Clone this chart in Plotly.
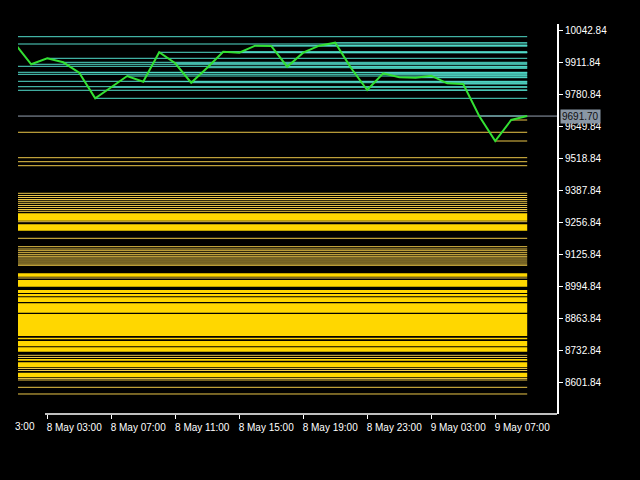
import pandas as pd
import plotly.graph_objects as go

# hourly closes, 8 May 01:00 .. 9 May 09:00
bar_times = pd.date_range("2024-05-08 01:00", periods=33, freq="h")
closes = [9986.7, 9903.7, 9928.2, 9911.8, 9869.3, 9764.4, 9809.5, 9855.7, 9832.4, 9952.8,
          9907.7, 9828.3, 9889.7, 9955.2, 9951.1, 9979.8, 9978.5, 9893.8, 9951.1, 9979.8,
          9992.1, 9887.3, 9798.4, 9866.8, 9850.4, 9848.8, 9857.0, 9825.8, 9823.0, 9692.0,
          9589.6, 9675.6, 9691.70]

# levels from bars before the visible window, they run across the whole chart
old_levels = [10016.6, 9895.4, 9870.9, 9862.7, 9834.0, 9811.9, 9797.2,
              9625.3, 9521.3, 9504.9, 9488.5,
              9375.5, 9366.5, 9358.3, 9350.1, 9342.8, 9334.6, 9325.6, 9317.4, 9309.2, 9301.8,
              9259.2, 9191.3,
              9156.9, 9147.5, 9140.5, 9132.3, 9124.2, 9117.6, 9110.7, 9102.5, 9094.3, 9086.1, 9080.8,
              9028.8, 8712.3, 8703.3, 8658.3, 8650.1, 8617.4, 8611.2, 8581.3, 8553.9]

# dense clusters of levels (low, high)
old_bands = [(9263.4, 9293.6), (9222.4, 9248.6), (9034.1, 9048.0), (8993.2, 9020.6),
             (8967.4, 8979.7), (8953.9, 8963.3), (8930.5, 8949.8), (8886.7, 8925.2),
             (8791.3, 8881.4), (8777.8, 8784.4), (8749.2, 8770.9), (8727.1, 8745.1),
             (8690.2, 8697.2), (8663.2, 8683.7), (8622.3, 8641.1)]

y_ticks = [10042.84, 9911.84, 9780.84, 9649.84, 9518.84, 9387.84,
           9256.84, 9125.84, 8994.84, 8863.84, 8732.84, 8601.84]
x_ticks = ["2024-05-08 03:00", "2024-05-08 07:00", "2024-05-08 11:00", "2024-05-08 15:00",
           "2024-05-08 19:00", "2024-05-08 23:00", "2024-05-09 03:00", "2024-05-09 07:00"]

CYAN = "#52dccb"
GOLD_LINE = "#ebc648"
GOLD = "#ffd700"
FONT = dict(family="Liberation Sans", size=10, color="white")

last = closes[-1]
t_first, t_last = bar_times[0], bar_times[-1]

# 16 px per hour, 8 May 03:00 sits 29 px from the left edge of the plot
t0 = pd.Timestamp("2024-05-08 03:00") - pd.Timedelta(hours=29.2 / 16)
t1 = t0 + pd.Timedelta(hours=539 / 16)

segs = {"up": ([], []), "dn": ([], [])}

def add_seg(start, lvl):
    key = "up" if lvl > last else "dn"
    xs, ys = segs[key]
    xs += [start, t_last, None]
    ys += [lvl, lvl, None]

for lvl in old_levels:
    add_seg(t_first, lvl)
for t, c in zip(bar_times[:-1], closes[:-1]):
    add_seg(t, c)

fig = go.Figure()

for lo, hi in old_bands:
    fig.add_shape(type="rect", xref="x", yref="y", x0=t_first, x1=t_last, y0=lo, y1=hi,
                  fillcolor=GOLD, line_width=0, layer="below")

fig.add_trace(go.Scatter(x=segs["dn"][0], y=segs["dn"][1], mode="lines",
                         line=dict(color=GOLD_LINE, width=1), hoverinfo="skip"))
fig.add_trace(go.Scatter(x=segs["up"][0], y=segs["up"][1], mode="lines",
                         line=dict(color=CYAN, width=1), hoverinfo="skip"))
# current price line
fig.add_trace(go.Scatter(x=[t0, t1], y=[last, last], mode="lines",
                         line=dict(color="#95a2b1", width=1), hoverinfo="skip"))
fig.add_trace(go.Scatter(x=bar_times, y=closes, mode="lines",
                         line=dict(color="#33e033", width=2)))

# x axis line (starts right of the cut label)
fig.add_shape(type="line", xref="paper", yref="paper", x0=27 / 539, x1=1, y0=0, y1=0,
              line=dict(color="white", width=1.5))

fig.add_annotation(xref="paper", yref="y", x=1, y=last, xanchor="left", xshift=3,
                   text="%.2f" % last, showarrow=False, bgcolor="#8a97a5",
                   font=dict(family="Liberation Sans", size=10, color="#101010"), borderpad=1)
fig.add_annotation(xref="paper", yref="paper", x=16.7 / 539, y=0, xanchor="right", yanchor="top",
                   xshift=2, yshift=-5, text="3:00", showarrow=False, font=FONT)

fig.update_layout(
    width=640, height=480,
    margin=dict(l=18, r=83, t=24, b=66),
    paper_bgcolor="black", plot_bgcolor="black",
    showlegend=False,
    xaxis=dict(range=[t0, t1], tickvals=x_ticks, tickformat="%-d %b %H:%M",
               ticks="outside", ticklen=4, tickcolor="white", tickfont=FONT,
               ticklabelshift=27, showgrid=False, zeroline=False, showline=False),
    yaxis=dict(range=[8472.0, 10068.6], side="right", tickvals=y_ticks,
               ticktext=["%.2f" % v for v in y_ticks],
               ticks="outside", ticklen=4, tickcolor="white", tickfont=FONT,
               showgrid=False, zeroline=False, showline=True, linecolor="white", linewidth=2),
)

# drop the page margin so the figure sits at the window corner
fig.write_html("out.html", config={"displayModeBar": False},
               post_script="document.body.style.margin='0';document.body.style.background='black';")
